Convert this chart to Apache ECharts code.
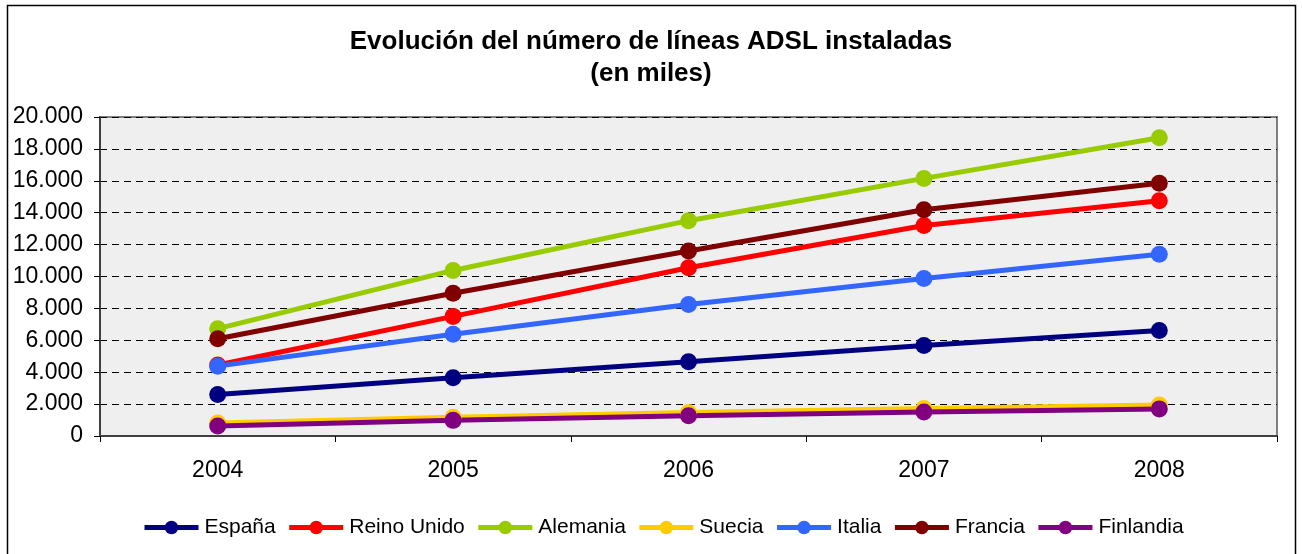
<!DOCTYPE html>
<html>
<head>
<meta charset="utf-8">
<script src="https://cdn.jsdelivr.net/npm/echarts@6/dist/echarts.min.js"></script>
<style>
  html, body { margin: 0; padding: 0; background: #fff; }
  #chart { width: 1302px; height: 554px; }
</style>
</head>
<body>
<div id="chart"></div>
<script>
// años
var years = ["2004", "2005", "2006", "2007", "2008"];
// miles de líneas ADSL
var espana = [2600, 3650, 4650, 5680, 6620];
var reinoUnido = [4450, 7500, 10550, 13200, 14750];
var alemania = [6730, 10380, 13500, 16150, 18700];
var suecia = [820, 1180, 1480, 1720, 1950];
var italia = [4380, 6380, 8250, 9870, 11400];
var francia = [6100, 8950, 11600, 14180, 15850];
var finlandia = [620, 980, 1270, 1500, 1700];

var names = ["España", "Reino Unido", "Alemania", "Suecia", "Italia", "Francia", "Finlandia"];
var colors = ["#000080", "#ff0000", "#99cc00", "#ffcc00", "#3366ff", "#800000", "#800080"];
var values = [espana, reinoUnido, alemania, suecia, italia, francia, finlandia];

var chart = echarts.init(document.getElementById("chart"));

var series = [];
for (var i = 0; i < names.length; i++) {
  series.push({
    name: names[i],
    type: "line",
    data: values[i],
    symbol: "circle",
    symbolSize: 17,
    showAllSymbol: true,
    lineStyle: { width: 5, color: colors[i] },
    itemStyle: { color: colors[i] },
    emphasis: { disabled: true }
  });
}

chart.setOption({
  animation: false,
  textStyle: { fontFamily: "Liberation Sans, Arial, sans-serif" },
  graphic: [
    {
      type: "rect",
      shape: { x: 7.5, y: 5.5, width: 1288, height: 560 },
      style: { fill: "none", stroke: "#000", lineWidth: 1.5 },
      silent: true,
      z: -1
    }
  ],
  title: {
    text: "Evolución del número de líneas ADSL instaladas\n(en miles)",
    left: "center",
    top: 21,
    textStyle: {
      fontSize: 26,
      fontWeight: "bold",
      color: "#000",
      lineHeight: 32,
      fontFamily: "Liberation Sans, Arial, sans-serif"
    }
  },
  legend: {
    data: names,
    top: 512,
    left: 137,
    itemWidth: 54,
    itemHeight: 17,
    itemGap: 11,
    lineStyle: { width: 5 },
    textStyle: { fontSize: 21, color: "#000", padding: [0, 0, 0, 1] }
  },
  grid: {
    left: 100,
    right: 25,
    top: 117,
    bottom: 118,
    show: true,
    backgroundColor: "#efefef",
    borderColor: "#808080",
    borderWidth: 2
  },
  xAxis: {
    type: "category",
    data: years,
    boundaryGap: true,
    axisLine: { lineStyle: { color: "#404040", width: 2 } },
    axisTick: { show: true, length: 6, lineStyle: { color: "#000" } },
    axisLabel: { fontSize: 23, color: "#000", margin: 23 },
    splitLine: { show: false }
  },
  yAxis: {
    type: "value",
    min: 0,
    max: 20000,
    interval: 2000,
    axisLine: { show: true, lineStyle: { color: "#404040", width: 2 } },
    axisTick: { show: true, length: 6, lineStyle: { color: "#000" } },
    axisLabel: {
      fontSize: 23,
      color: "#000",
      margin: 17,
      formatter: function (v) {
        return String(v).replace(/\B(?=(\d{3})+(?!\d))/g, ".");
      }
    },
    splitLine: { show: true, lineStyle: { color: "#000", type: [7, 5], width: 1 } }
  },
  series: series
});
</script>
</body>
</html>
